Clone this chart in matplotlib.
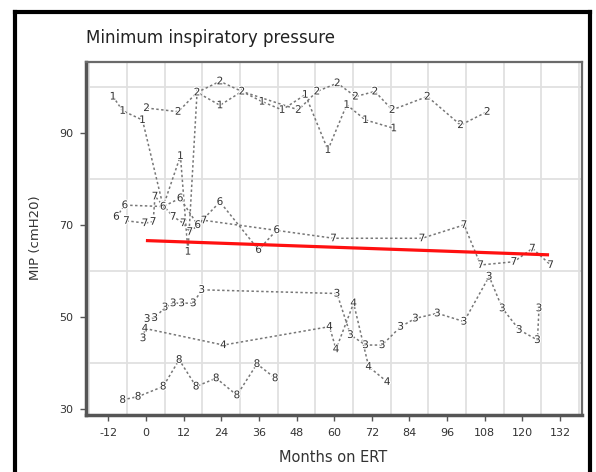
import numpy as np
import matplotlib
matplotlib.use("Agg")
import matplotlib.pyplot as plt
from matplotlib.lines import Line2D
import matplotlib.patheffects as pe

# ---------------- data (months on ERT, MIP cmH2O) ----------------
p1_months = [-10.5, -7.4, -1.1, 5.5, 11.0, 13.4, 16.3, 23.6, 30.6, 37.0, 43.4, 50.8, 58.0, 64.0, 70.0, 79.0]
p1_mip = [97.9, 94.8, 92.8, 74.0, 85.0, 64.2, 98.8, 96.0, 99.0, 96.8, 95.0, 98.3, 86.3, 96.1, 92.8, 91.0]

p2_months = [0.2, 10.3, 16.3, 23.6, 30.6, 48.6, 54.5, 61.0, 66.8, 73.0, 78.5, 89.7, 100.3, 108.8]
p2_mip = [95.4, 94.6, 98.8, 101.2, 99.0, 95.0, 99.0, 100.8, 97.9, 99.0, 95.0, 97.9, 91.7, 94.6]

p3_months = [-0.9, 0.4, 2.8, 6.1, 8.7, 11.4, 15.1, 17.8, 60.9, 65.2, 70.0, 75.3, 81.2, 85.9, 92.9,
             101.4, 109.4, 113.6, 119.0, 124.8, 125.3]
p3_mip = [45.4, 49.6, 49.8, 52.1, 53.0, 53.0, 53.0, 55.9, 55.1, 46.1, 43.9, 43.9, 47.9, 49.7, 50.8,
          49.0, 58.8, 51.9, 47.2, 45.0, 51.9]

p4_months = [-0.3, 24.7, 58.5, 60.6, 66.2, 71.0, 76.9]
p4_mip = [47.5, 43.9, 47.9, 43.0, 53.0, 39.2, 35.9]

p6_months = [-9.4, -6.7, 5.5, 10.9, 16.5, 23.6, 35.9, 41.7]
p6_mip = [71.8, 74.3, 74.0, 75.8, 70.0, 75.0, 64.6, 68.9]

p7_months = [-6.2, -0.3, 2.3, 2.9, 8.7, 11.9, 14.0, 18.5, 59.8, 88.0, 101.4, 106.7, 117.3, 123.2, 129.0]
p7_mip = [70.9, 70.4, 70.7, 76.2, 71.8, 70.4, 68.5, 71.0, 67.1, 67.1, 70.0, 61.3, 62.0, 64.9, 61.3]

p8_months = [-7.4, -2.5, 5.5, 10.6, 16.0, 22.4, 29.0, 35.4, 41.2]
p8_mip = [32.0, 32.7, 34.9, 40.7, 34.9, 36.7, 33.0, 39.8, 36.7]

patients = ["1", "2", "3", "4", "6", "7", "8"]
series_months = [p1_months, p2_months, p3_months, p4_months, p6_months, p7_months, p8_months]
series_mip = [p1_mip, p2_mip, p3_mip, p4_mip, p6_mip, p7_mip, p8_mip]

fit_months = [0.0, 128.5]
fit_mip = [66.6, 63.5]

x_ticks = [-12, 0, 12, 24, 36, 48, 60, 72, 84, 96, 108, 120, 132]
y_ticks = [30, 50, 70, 90]

title = "Minimum inspiratory pressure"
xlabel = "Months on ERT"
ylabel = "MIP (cmH20)"

# ---------------- figure ----------------
W, H = 596, 472
fig = plt.figure(figsize=(W / 100, H / 100), dpi=100)
fig.patch.set_facecolor("white")

L, R, T, B = 86, 582, 62, 415
ax = fig.add_axes([L / W, 1 - B / H, (R - L) / W, (B - T) / H])
ax.set_xlim(-19.1, 139.0)
ax.set_ylim(28.7, 105.4)

# grid
ax.set_xticks(np.arange(-18, 139, 6), minor=True)
ax.set_yticks(np.arange(30, 101, 10), minor=True)
ax.grid(which="minor", color="#e0e0e0", lw=1.3, zorder=0)
ax.set_axisbelow(True)
ax.tick_params(which="minor", length=0)

ax.set_xticks(x_ticks)
ax.set_xticklabels([str(v) for v in x_ticks])
ax.set_yticks(y_ticks)
ax.set_yticklabels([str(v) for v in y_ticks])
ax.tick_params(which="major", direction="out", length=4, width=1, color="#555555",
               labelsize=8, labelcolor="#333333", pad=5)

for s in ["left", "bottom"]:
    ax.spines[s].set_color("#555555")
    ax.spines[s].set_linewidth(2.5)
for s in ["top", "right"]:
    ax.spines[s].set_color("#6a6a6a")
    ax.spines[s].set_linewidth(1.6)

# patient trajectories
for lab, xs, ys in zip(patients, series_months, series_mip):
    ax.plot(xs, ys, color="#777777", lw=1.1, linestyle=(0, (1.6, 1.6)), zorder=2)
for lab, xs, ys in zip(patients, series_months, series_mip):
    for x, y in zip(xs, ys):
        ax.text(x, y, lab, ha="center", va="center", fontsize=7.5, color="#333333", zorder=3,
                path_effects=[pe.withStroke(linewidth=1.5, foreground="white")])

# fitted line
ax.plot(fit_months, fit_mip, color="#ff1010", lw=2.3, zorder=4, solid_capstyle="butt")

# texts
fig.text(L / W, 1 - 38 / H, title, ha="left", va="center", fontsize=12, color="#222222")
fig.text(333 / W, 1 - 458 / H, xlabel, ha="center", va="center", fontsize=10.5, color="#333333")
fig.text(35 / W, 1 - 238 / H, ylabel, ha="center", va="center", rotation=90, fontsize=9.5,
         color="#333333")

# black screenshot frame
def fline(xs, ys):
    fig.add_artist(Line2D([x / W for x in xs], [1 - y / H for y in ys], transform=fig.transFigure,
                          color="black", lw=3, solid_capstyle="projecting"))

fline([15, 15], [12, H])
fline([15, 590], [12, 12])
fline([590, 590], [12, H])

fig.savefig("out.png", dpi=100)
